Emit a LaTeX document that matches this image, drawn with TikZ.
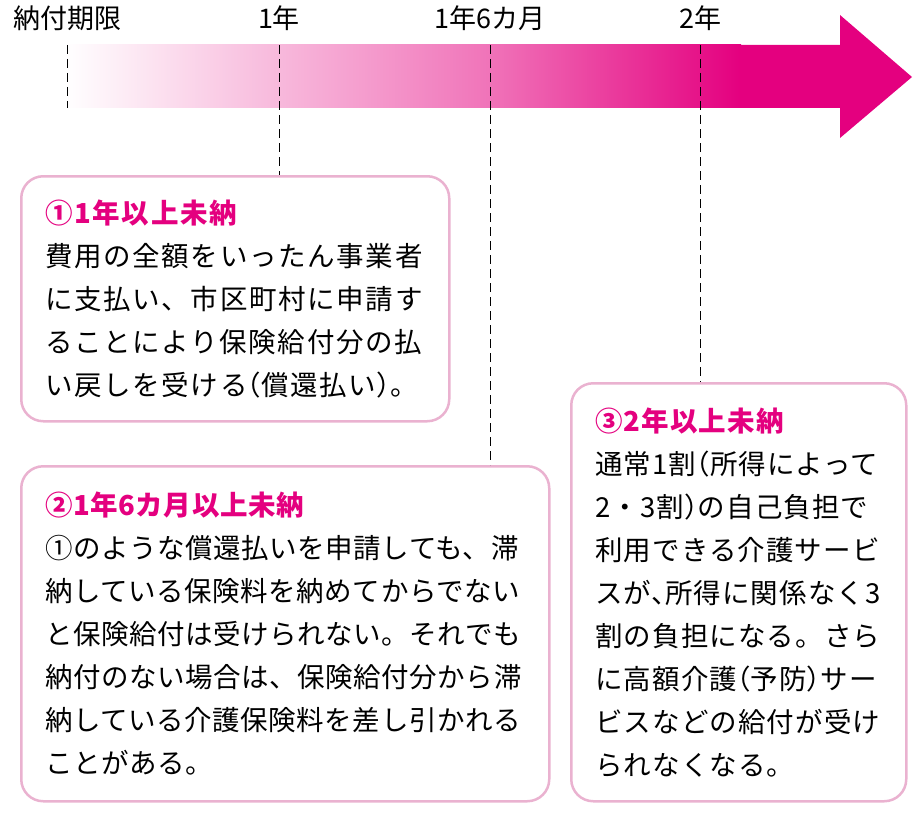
\documentclass[tikz,border=0pt]{standalone}
\usepackage{fontspec}
\setmainfont{Noto Sans CJK JP}
\usepackage{xcolor}

\definecolor{mag}{RGB}{228,0,127}
\definecolor{boxpink}{RGB}{234,178,208}
\newcommand{\bodyfont}[1]{\fontsize{27.5}{43}\selectfont\addfontfeature{LetterSpace=#1}}
\newcommand{\hw}[1]{{\addfontfeature{RawFeature=+halt}#1}}

\begin{document}
\begin{tikzpicture}[x=1pt, y=-1pt,
box/.style = {draw=boxpink, line width=2.5pt, rounded corners=22pt, fill=white, align=left,
  inner xsep=24pt, inner ysep=0pt, anchor=north west, font=\bodyfont{#1}},
box/.default = 4,
tick/.style = {inner sep=0pt, font=\fontsize{27}{27}\selectfont},
guide/.style = {dash pattern=on 9pt off 5pt, line width=0.9pt}
]
\useasboundingbox (0,0) rectangle (920,824);
% arrow
\shade[left color=white, right color=mag!55] (65,45) rectangle (491,108);
\shade[left color=mag!55, right color=mag] (490,45) rectangle (741,108);
\fill[mag] (740,45) -- (840,45) -- (840,15) -- (912,77) -- (840,138) -- (840,108) -- (740,108) -- cycle;
% time points
\foreach \n/\x/\t in {0/67/納付期限, 1/279/1年, 2/490/1年6カ月, 3/700/2年}{
  \node[tick] (l\n) at (\x,18) {\t};
  \coordinate (p\n) at (\x,45);
}
\coordinate (q0) at (67,108);
% boxes
\node[box=6, text width=380pt, minimum height=245pt] (box1) at (20,175) {%
{\color{mag}\bfseries ①1年以上未納}\\
費用の全額をいったん事業者\\
に支払い、市区町村に申請す\\
ることにより保険給付分の払\\
い戻しを受ける\hw{（}償還払い\hw{）}。};
\node[box=2, text width=480pt, minimum height=335pt] (box2) at (20,465) {%
{\color{mag}\bfseries ②1年6カ月以上未納}\\
①のような償還払いを申請しても、滞\\
納している保険料を納めてからでない\\
と保険給付は受けられない。それでも\\
納付のない場合は、保険給付分から滞\\
納している介護保険料を差し引かれる\\
ことがある。};
\node[box=4, text width=287pt, minimum height=418pt] (box3) at (570,382) {%
{\color{mag}\bfseries ③2年以上未納}\\
通常1割\hw{（}所得によって\\
2・3割\hw{）}の自己負担で\\
利用できる介護サービ\\
スが\hw{、}所得に関係なく3\\
割の負担になる。さら\\
に高額介護\hw{（}予防\hw{）}サー\\
ビスなどの給付が受け\\
られなくなる。};
% guides
\draw[guide] (p0) -- (q0);
\foreach \i/\j in {p1/box1, p2/box2, p3/box3}{\draw[guide] (\i) -- (\i |- \j.north);}
\end{tikzpicture}
\end{document}
